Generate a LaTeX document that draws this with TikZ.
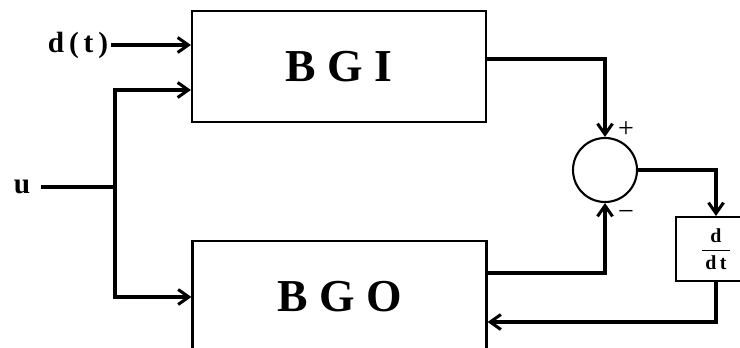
\documentclass[tikz,border=0pt]{standalone}
\usepackage{fontspec}
\setmainfont{Liberation Serif}
\usetikzlibrary{arrows.meta}

\tikzset{
  block/.style={draw=black, line width=1.8pt, minimum width=8.82cm, minimum height=3.33cm, inner sep=0pt, font=\fontsize{39}{41}\selectfont\bfseries},
  sumnode/.style={circle, draw=black, line width=1.8pt, minimum size=1.92cm, inner sep=0pt},
  ddtbox/.style={draw=black, line width=1.8pt, minimum width=2.4cm, minimum height=1.92cm, inner sep=0pt, font=\fontsize{17}{19}\selectfont},
  sig/.style={inner sep=2pt, font=\fontsize{25}{27}\selectfont\bfseries},
  pm/.style={inner sep=0pt, font=\fontsize{24}{26}\selectfont},
  conn/.style={line width=2.6pt}
}

\begin{document}
\begin{tikzpicture}[x=0.03cm, y=-0.03cm, >={Straight Barb[length=0.32cm,width=0.45cm]}]
\useasboundingbox (0,0) rectangle (740,348);
\node[block] (bgi) at (339,66.5){B G I};
\node[block] (bgo) at (339.5,296.5){B G O};
\node[sumnode] (sum) at (605,170){};
\node[ddtbox] (ddt) at (716,249){$\displaystyle\frac{\hbox{\bfseries d}}{\hbox{\bfseries\,d\,t\,}}$};
\node[sig] (dt) at (78,45){d\,(\,t\,)};
\node[sig, inner xsep=9pt] (u) at (22,187){u};
\node[pm] (plus) at (626,130){+};
\node[pm] (minus) at (626,215){−};
\coordinate (j) at (115,187);
\coordinate (up) at (115,90);
\coordinate (dn) at (115,297);
% inputs
\draw[conn,->] (dt) -- (dt -| bgi.west);
\draw[conn] (u) -- (j);
\draw[conn,->] (j) -- (up) -- (up -| bgi.west);
\draw[conn,->] (j) -- (dn) -- (dn -| bgo.west);
% comparison
\draw[conn,->] ([yshift=0.225cm]bgi.east) -| (sum.north);
\draw[conn,->] ([yshift=0.705cm]bgo.east) -| (sum.south);
\draw[conn,->] (sum.east) -| (ddt.north);
\draw[conn,->] (ddt.south) |- ([yshift=-0.765cm]bgo.east);
\end{tikzpicture}
\end{document}
